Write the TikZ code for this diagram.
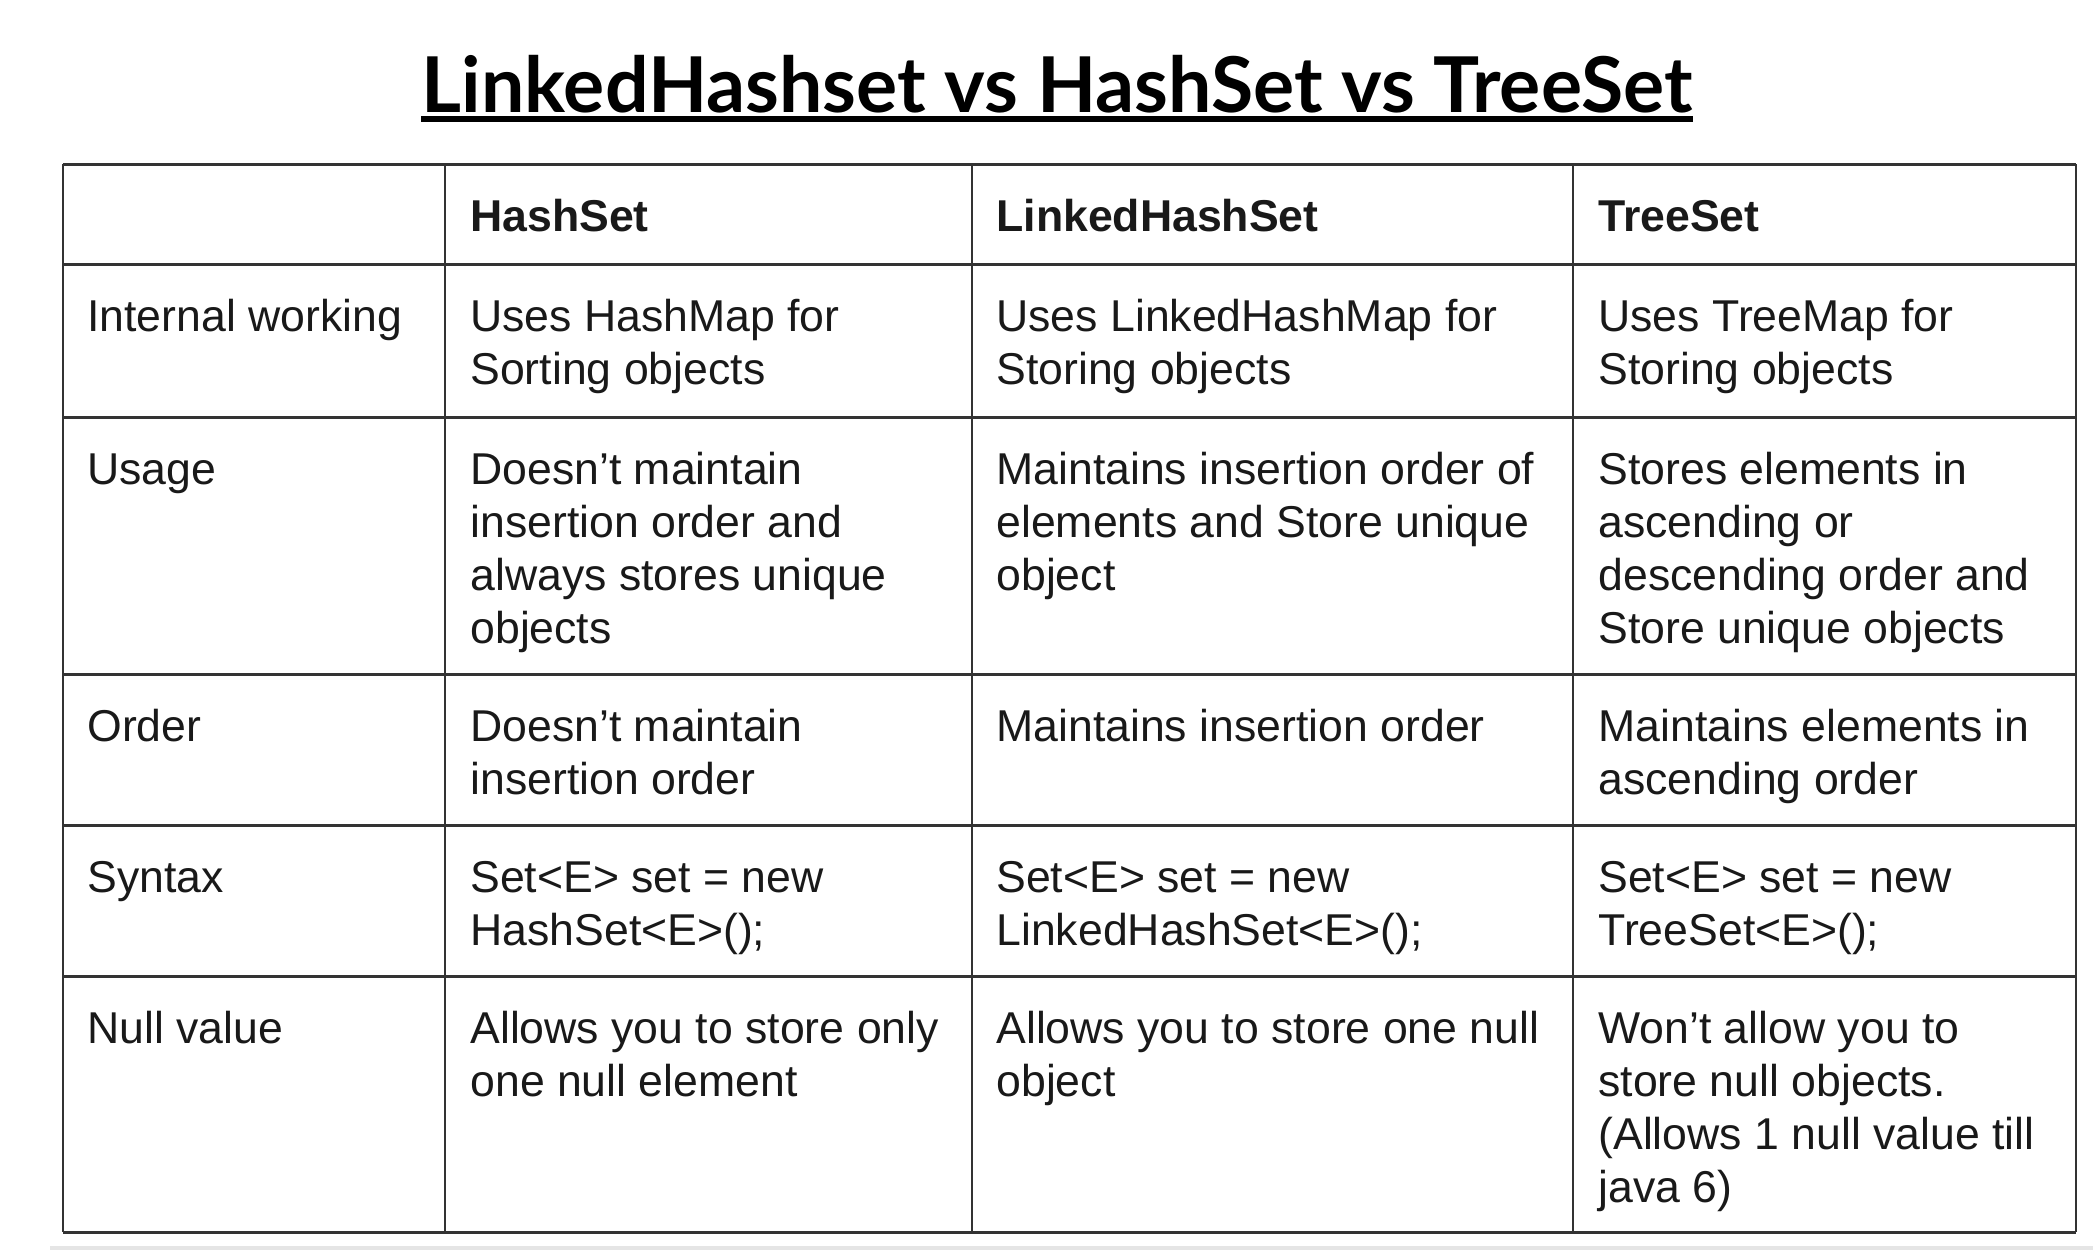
\documentclass[tikz,border=0pt]{standalone}
\usepackage{fontspec}
\setmainfont{Liberation Sans}
\newfontfamily\titlefont{Lato}
\newcommand{\celltext}[1]{\begin{tabular}[t]{@{}l@{}}#1\end{tabular}}
\begin{document}
\begin{tikzpicture}[x=0.5pt,y=-0.5pt,
  cell/.style={anchor=base west,inner sep=0pt,text=black!90,
    font=\fontsize{22.3}{26.5}\selectfont},
  headcell/.style={cell,font=\fontsize{22.3}{26.5}\selectfont\bfseries},
  hrule/.style={draw=black!80,line width=1.5pt},
  vrule/.style={draw=black!80,line width=1pt}]
\useasboundingbox (0,0) rectangle (2093,1250);
\fill [black!10] (50,1246) rectangle (2093,1250);
% title
\node (title) at (1057,112) [anchor=base,inner sep=0pt,font=\titlefont\bfseries\fontsize{38.5}{44}\selectfont] {LinkedHashset vs HashSet vs TreeSet};
\draw [line width=3pt] ([yshift=-3.5pt]title.base west) -- ([yshift=-3.5pt]title.base east);
% grid
\foreach \y in {164,264,417,674,825,976,1232}
  \draw [hrule] (63,\y) -- (2076,\y);
\foreach \x in {63,445,972,1573,2076}
  \draw [vrule] (\x,164) -- (\x,1232);
% header
\node (hashH)   at (470,231)  [headcell] {HashSet};
\node (linkedH) at (996,231)  [headcell] {LinkedHashSet};
\node (treeH)   at (1598,231) [headcell] {TreeSet};
% internal working
\node (workL)      at (87,331)   [cell] {Internal working};
\node (workHash)   at (470,331)  [cell] {\celltext{Uses HashMap for\\Sorting objects}};
\node (workLinked) at (996,331)  [cell] {\celltext{Uses LinkedHashMap for\\Storing objects}};
\node (workTree)   at (1598,331) [cell] {\celltext{Uses TreeMap for\\Storing objects}};
% usage
\node (useL)      at (87,484)   [cell] {Usage};
\node (useHash)   at (470,484)  [cell] {\celltext{Doesn’t maintain\\insertion order and\\always stores unique\\objects}};
\node (useLinked) at (996,484)  [cell] {\celltext{Maintains insertion order of\\elements and Store unique\\object}};
\node (useTree)   at (1598,484) [cell] {\celltext{Stores elements in\\ascending or\\descending order and\\Store unique objects}};
% order
\node (orderL)      at (87,741)   [cell] {Order};
\node (orderHash)   at (470,741)  [cell] {\celltext{Doesn’t maintain\\insertion order}};
\node (orderLinked) at (996,741)  [cell] {Maintains insertion order};
\node (orderTree)   at (1598,741) [cell] {\celltext{Maintains elements in\\ascending order}};
% syntax
\node (synL)      at (87,892)   [cell] {Syntax};
\node (synHash)   at (470,892)  [cell] {\celltext{Set<E> set = new\\HashSet<E>();}};
\node (synLinked) at (996,892)  [cell] {\celltext{Set<E> set = new\\LinkedHashSet<E>();}};
\node (synTree)   at (1598,892) [cell] {\celltext{Set<E> set = new\\TreeSet<E>();}};
% null value
\node (nullL)      at (87,1043)   [cell] {Null value};
\node (nullHash)   at (470,1043)  [cell] {\celltext{Allows you to store only\\one null element}};
\node (nullLinked) at (996,1043)  [cell] {\celltext{Allows you to store one null\\object}};
\node (nullTree)   at (1598,1043) [cell] {\celltext{Won’t allow you to\\store null objects.\\(Allows 1 null value till\\java 6)}};
\end{tikzpicture}
\end{document}
